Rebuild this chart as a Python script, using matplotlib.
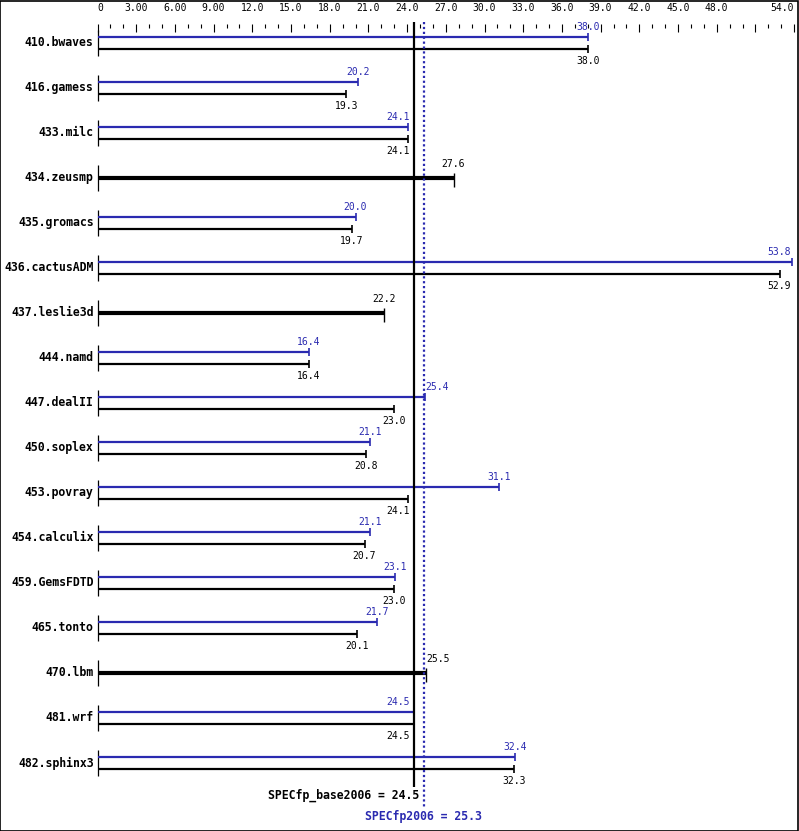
import matplotlib
matplotlib.use("Agg")
import matplotlib.pyplot as plt
from matplotlib.patches import Rectangle
import numpy as np

benchmarks = ["410.bwaves", "416.gamess", "433.milc", "434.zeusmp", "435.gromacs",
              "436.cactusADM", "437.leslie3d", "444.namd", "447.dealII", "450.soplex",
              "453.povray", "454.calculix", "459.GemsFDTD", "465.tonto", "470.lbm",
              "481.wrf", "482.sphinx3"]
peak = [38.0, 20.2, 24.1, None, 20.0, 53.8, None, 16.4, 25.4, 21.1, 31.1,
        21.1, 23.1, 21.7, None, 24.5, 32.4]
base = [38.0, 19.3, 24.1, 27.6, 19.7, 52.9, 22.2, 16.4, 23.0, 20.8, 24.1,
        20.7, 23.0, 20.1, 25.5, 24.5, 32.3]
base_score = 24.5
peak_score = 25.3
major_ticks = [0, 3, 6, 9, 12, 15, 18, 21, 24, 27, 30, 33, 36, 39, 42, 45, 48, 51, 54]
tick_labels = ["0", "3.00", "6.00", "9.00", "12.0", "15.0", "18.0", "21.0", "24.0",
               "27.0", "30.0", "33.0", "36.0", "39.0", "42.0", "45.0", "48.0", "", "54.0"]

BLUE = "#2a2ab0"
MONO = "DejaVu Sans Mono"
W, H = 799, 831
PXU = 12.9  # pixels per unit
x0 = 97.5
top_px = 24
row0, drow = 43, 45

fig = plt.figure(figsize=(W / 100, H / 100), dpi=100)
ax = fig.add_axes([x0 / W, 0, 54 * PXU / W, (H - top_px) / H])
ax.set_xlim(0, 54)
ax.set_ylim((H - row0) / drow, (top_px - row0) / drow)
for s in ax.spines.values():
    s.set_visible(False)
ax.set_yticks([])
ax.xaxis.tick_top()
ax.set_xticks(major_ticks)
ax.set_xticklabels(tick_labels, fontfamily=MONO, fontsize=7)
ax.set_xticks(np.arange(0, 55, 1), minor=True)
ax.tick_params(axis="x", which="major", direction="in", length=5.8, width=0.8, pad=8.2)
ax.tick_params(axis="x", which="minor", direction="in", length=2.9, width=0.8)
labs = ax.get_xticklabels()
labs[0].set_horizontalalignment("left")
labs[-1].set_horizontalalignment("right")

off = 6 / drow
for i, (name, p, b) in enumerate(zip(benchmarks, peak, base)):
    ax.text(-0.3, i, name, ha="right", va="center", fontfamily=MONO,
            fontweight="bold", fontsize=8.3, clip_on=False)
    ax.vlines(0, i - 0.29, i + 0.29, color="black", lw=0.9, clip_on=False)
    if p is None:
        ax.hlines(i, 0, b, color="black", lw=3.0, clip_on=False)
        ax.vlines(b, i - 0.1, i + 0.2, color="black", lw=1.0, clip_on=False)
        if b > base_score and b - 0.9 < peak_score + 0.3:
            ax.text(b, i - 0.3, f"{b:.1f}", ha="left", va="center",
                    fontfamily=MONO, fontsize=7, clip_on=False)
        else:
            ax.text(b, i - 0.3, f"{b:.1f}", ha="center", va="center",
                    fontfamily=MONO, fontsize=7, clip_on=False)
        continue
    # peak (blue) bar
    ax.hlines(i - off, 0, p, color=BLUE, lw=1.6, clip_on=False)
    ax.vlines(p, i - off - 0.08, i - off + 0.08, color=BLUE, lw=1.2, clip_on=False)
    # base (black) bar
    ax.hlines(i + off, 0, b, color="black", lw=1.6, clip_on=False)
    ax.vlines(b, i + off - 0.08, i + off + 0.08, color="black", lw=1.2, clip_on=False)
    for val, yy, col in ((p, i - 0.35, BLUE), (b, i + 0.39, "black")):
        xpos, ha = min(val, 52.85), "center"
        if 23.5 < val <= base_score + 0.05:
            xpos, ha = base_score - 0.3, "right"
        elif base_score < val and val - 0.9 < peak_score + 0.3:
            xpos, ha = val, "left"
        ax.text(xpos, yy, f"{val:.1f}", ha=ha, va="center", color=col,
                fontfamily=MONO, fontsize=7, clip_on=False)

ax.vlines(base_score, (22 - row0) / drow, (787 - row0) / drow, color="black",
          lw=1.6, clip_on=False)
ax.vlines(peak_score, (22 - row0) / drow, (808 - row0) / drow, color=BLUE,
          lw=1.6, linestyles=(0, (1, 1.2)), clip_on=False)
ax.text(base_score + 0.45, (795 - row0) / drow, f"SPECfp_base2006 = {base_score}",
        ha="right", va="center", fontfamily=MONO, fontweight="bold", fontsize=8.3,
        clip_on=False)
ax.text(peak_score, (817 - row0) / drow, f"SPECfp2006 = {peak_score}",
        ha="center", va="center", color=BLUE, fontfamily=MONO, fontweight="bold",
        fontsize=8.3, clip_on=False)

fig.patches.append(Rectangle((0.0006, 0.0006), 0.9985, 0.9985, transform=fig.transFigure,
                             fill=False, edgecolor="black", lw=1.2))
fig.savefig("out.png", dpi=100)
